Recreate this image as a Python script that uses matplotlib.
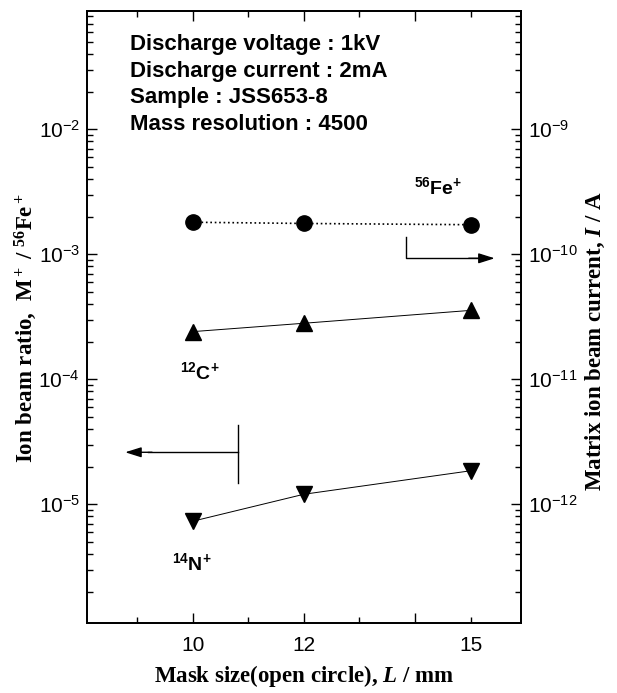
import numpy as np
import matplotlib
matplotlib.use("Agg")
import matplotlib.pyplot as plt
from matplotlib.ticker import FixedLocator, LogLocator, NullFormatter, FixedFormatter

plt.rcParams['font.family'] = ['Liberation Sans', 'DejaVu Sans']
plt.rcParams['axes.unicode_minus'] = False
plt.rcParams['mathtext.fontset'] = 'custom'
plt.rcParams['mathtext.rm'] = 'Liberation Serif:bold'
plt.rcParams['mathtext.it'] = 'Liberation Serif:bold:italic'
plt.rcParams['mathtext.bf'] = 'Liberation Serif:bold'
plt.rcParams['mathtext.sf'] = 'Liberation Sans:bold'

# mask size (mm)
mask = [10, 12, 15]
# ion beam ratio M+/56Fe+ (left axis)
ratio_c = [2.4e-4, 2.8e-4, 3.55e-4]
ratio_n = [7.3e-6, 1.2e-5, 1.85e-5]
# matrix ion beam current 56Fe+ (right axis, A)
fe_current = [1.8e-10, 1.76e-10, 1.72e-10]

info = ["Discharge voltage : 1kV",
        "Discharge current : 2mA",
        "Sample : JSS653-8",
        "Mass resolution : 4500"]

fig = plt.figure(figsize=(6.17, 6.93), dpi=100)
ax = fig.add_axes([0.141, 0.101, 0.703, 0.883])
ax2 = ax.twinx()

ax.plot(mask, ratio_c, color='black', lw=0.7, marker='^', ms=11)
ax.plot(mask, ratio_n, color='black', lw=0.7, marker='v', ms=11)
ax2.plot(mask, fe_current, color='black', lw=1.2, ls=':', marker='o', ms=11)

ax.set_yscale('log')
ax2.set_yscale('log')
ax.set_ylim(1.12e-6, 8.8e-2)
ax2.set_ylim(1.12e-13, 8.8e-9)
ax.set_xlim(8.1, 15.9)

# x ticks: long at 10,12,14, short at 9,11,13,15
ax.xaxis.set_major_locator(FixedLocator([10, 12, 14]))
ax.xaxis.set_major_formatter(FixedFormatter(['10', '12', '']))
ax.xaxis.set_minor_locator(FixedLocator([9, 11, 13, 15]))
ax.xaxis.set_minor_formatter(FixedFormatter(['', '', '', '15']))

for a in (ax, ax2):
    a.yaxis.set_minor_locator(LogLocator(base=10, subs=np.arange(2, 10)))
    a.yaxis.set_minor_formatter(NullFormatter())

ax.tick_params(axis='x', which='both', direction='in', top=True, labelsize=15, pad=9)
ax.tick_params(axis='x', which='major', length=7, width=1)
ax.tick_params(axis='x', which='minor', length=4, width=1)
ax.tick_params(axis='y', which='both', direction='in', labelsize=15, pad=5)
ax.tick_params(axis='y', which='major', length=7, width=1)
ax.tick_params(axis='y', which='minor', length=4, width=1)
ax2.tick_params(axis='y', which='both', direction='in', labelsize=15, pad=5)
ax2.tick_params(axis='y', which='major', length=7, width=1)
ax2.tick_params(axis='y', which='minor', length=4, width=1)

for a in (ax, ax2):
    for s in a.spines.values():
        s.set_linewidth(1.3)

lab = dict(family='Liberation Serif', weight='bold', fontsize=16.5)
ax.set_xlabel(r'Mask size(open circle), $\mathit{L}$ / mm', labelpad=6, **lab)
ax.set_ylabel(r'Ion beam ratio,  $\mathrm{M^+}$ / $\mathrm{^{56}Fe^+}$', **lab)
ax2.set_ylabel(r'Matrix ion beam current, $\mathit{I}$ / A', **lab)
ax.yaxis.set_label_coords(-0.11, 0.482)
ax2.yaxis.set_label_coords(1.145, 0.461)

# condition text
for i, t in enumerate(info):
    ax.text(0.099, 0.946 - i * 0.044, t, transform=ax.transAxes, fontsize=16,
            fontweight='bold', ha='left', va='center')

# species labels
sp = dict(transform=ax.transAxes, fontsize=14, fontweight='bold', ha='center', va='center')
ax.text(0.809, 0.712, r'$\mathsf{^{56}}$Fe$^\mathsf{+}$', **sp)
ax.text(0.260, 0.410, r'$\mathsf{^{12}}$C$^\mathsf{+}$', **sp)
ax.text(0.242, 0.098, r'$\mathsf{^{14}}$N$^\mathsf{+}$', **sp)

# arrows pointing to the axis each series belongs to
head = dict(arrowstyle='-|>,head_length=0.7,head_width=0.22', color='black', lw=1,
            mutation_scale=14, shrinkA=0, shrinkB=0)
ax.plot([0.735, 0.735, 0.90], [0.631, 0.596, 0.596], color='black', lw=1,
        transform=ax.transAxes)
ax.annotate('', xy=(0.940, 0.596), xytext=(0.88, 0.596), xycoords='axes fraction',
            arrowprops=head)
ax.plot([0.348, 0.348], [0.324, 0.229], color='black', lw=1, transform=ax.transAxes)
ax.plot([0.348, 0.14], [0.279, 0.279], color='black', lw=1, transform=ax.transAxes)
ax.annotate('', xy=(0.088, 0.279), xytext=(0.15, 0.279), xycoords='axes fraction',
            arrowprops=head)

fig.savefig('out.png', dpi=100)
